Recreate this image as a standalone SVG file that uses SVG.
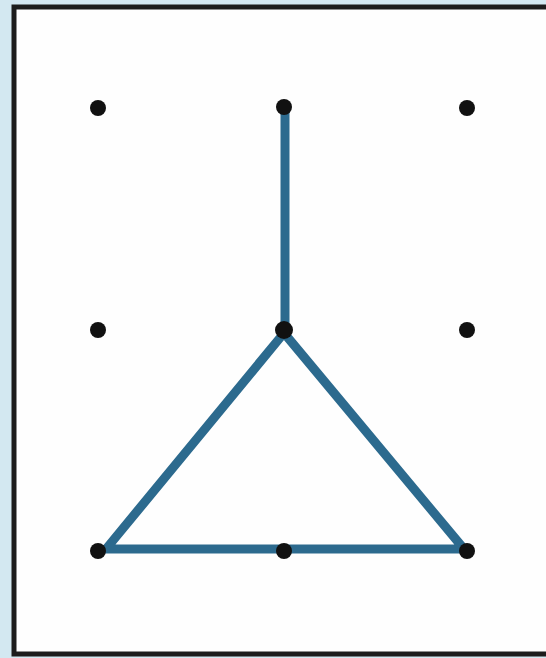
<svg xmlns="http://www.w3.org/2000/svg" width="546" height="658" viewBox="0 0 546 658">
<style>
.dot{fill:#111;}
.edge{stroke:#2c6a8e;stroke-width:9;stroke-linecap:round;stroke-linejoin:round;fill:none;}
</style>
<rect x="0" y="0" width="546" height="658" fill="#d3e8f1"/>
<rect x="14" y="7" width="540" height="647" fill="#fefefe" stroke="#1c1c1c" stroke-width="5"/>
<g id="connectors">
<line class="edge" x1="285" y1="110" x2="285" y2="330"/>
<polygon class="edge" points="284,333 106,549 464,549"/>
</g>
<g id="n1"><circle class="dot" cx="98" cy="108" r="8"/></g>
<g id="n2"><circle class="dot" cx="284" cy="107" r="8"/></g>
<g id="n3"><circle class="dot" cx="467" cy="108" r="8"/></g>
<g id="n4"><circle class="dot" cx="98" cy="330" r="8"/></g>
<g id="n5"><circle class="dot" cx="284" cy="330" r="9"/></g>
<g id="n6"><circle class="dot" cx="467" cy="330" r="8"/></g>
<g id="n7"><circle class="dot" cx="98" cy="551" r="8"/></g>
<g id="n8"><circle class="dot" cx="284" cy="551" r="8"/></g>
<g id="n9"><circle class="dot" cx="467" cy="551" r="8"/></g>
</svg>
